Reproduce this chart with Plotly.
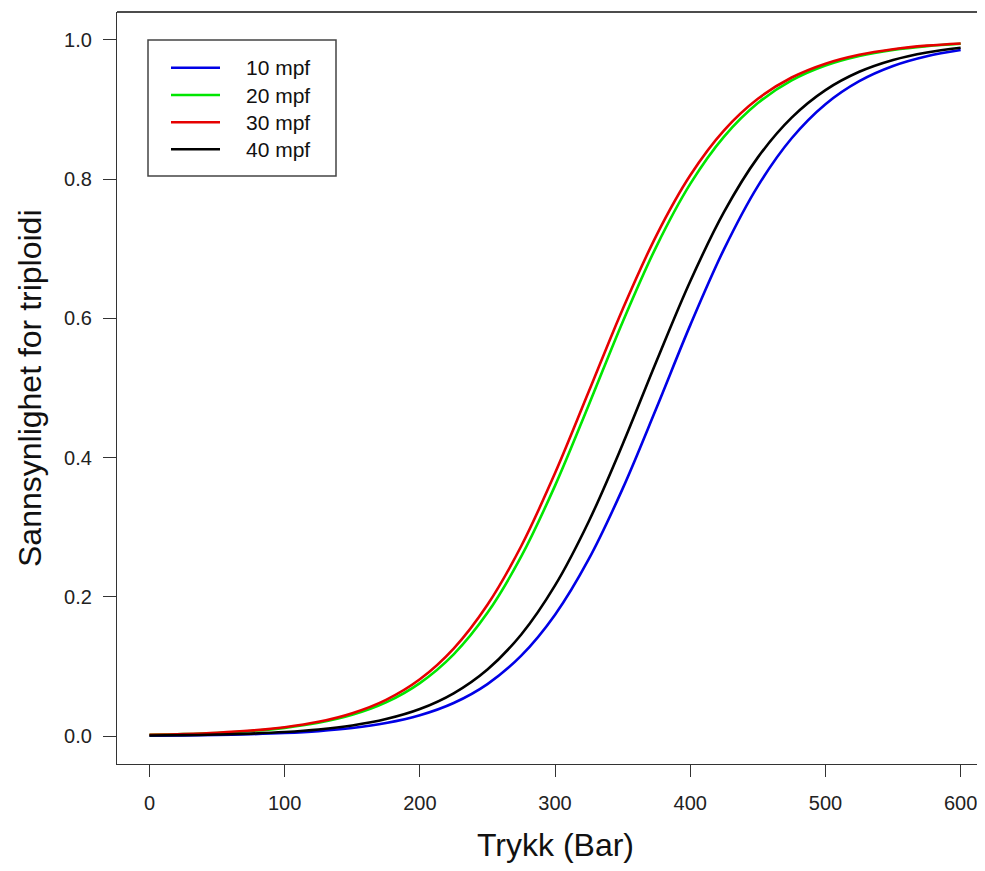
import plotly.graph_objects as go

# Pressure (Bar)
trykk = [0, 25, 50, 75, 100, 125, 150, 175, 200, 225, 250, 275, 300,
         325, 350, 375, 400, 425, 450, 475, 500, 525, 550, 575, 600]

# Probability of triploidy
p_10mpf = [0.00066, 0.00107, 0.00173, 0.00280, 0.00452, 0.00728, 0.0117, 0.0188,
           0.0300, 0.0476, 0.0748, 0.1156, 0.1744, 0.2545, 0.3555, 0.4713,
           0.5903, 0.6995, 0.7900, 0.8587, 0.9076, 0.9407, 0.9625, 0.9765, 0.9853]
p_20mpf = [0.00177, 0.00285, 0.00460, 0.00742, 0.0119, 0.0192, 0.0306, 0.0485,
           0.0762, 0.1175, 0.1771, 0.2581, 0.3598, 0.4760, 0.5949, 0.7035,
           0.7931, 0.8610, 0.9092, 0.9418, 0.9632, 0.9769, 0.9856, 0.9910, 0.9944]
p_30mpf = [0.00191, 0.00308, 0.00497, 0.00801, 0.0129, 0.0206, 0.0330, 0.0522,
           0.0817, 0.1258, 0.1887, 0.2731, 0.3778, 0.4952, 0.6132, 0.7193,
           0.8055, 0.8700, 0.9153, 0.9459, 0.9658, 0.9786, 0.9866, 0.9917, 0.9948]
p_40mpf = [0.00087, 0.00140, 0.00227, 0.00366, 0.00590, 0.00950, 0.0153, 0.0245,
           0.0389, 0.0615, 0.0957, 0.1460, 0.2165, 0.3087, 0.4192, 0.5384,
           0.6534, 0.7529, 0.8312, 0.8883, 0.9278, 0.9541, 0.9711, 0.9819, 0.9887]

series_names = ["10 mpf", "20 mpf", "30 mpf", "40 mpf"]
series_values = [p_10mpf, p_20mpf, p_30mpf, p_40mpf]
series_colors = ["#0000E6", "#00E600", "#E60000", "#000000"]

x_ticks = [0, 100, 200, 300, 400, 500, 600]
y_ticks = [0.0, 0.2, 0.4, 0.6, 0.8, 1.0]

FONT = "Liberation Sans, Arial, Helvetica, sans-serif"

# plot area spans 868 px for 642 Bar (the reference box is cut at the right edge)
PX = 868.0
def px(dx):
    return dx / PX

fig = go.Figure()
for name, vals, col in zip(series_names, series_values, series_colors):
    fig.add_trace(go.Scatter(
        x=trykk, y=vals, mode="lines", name=name, showlegend=False,
        line=dict(color=col, width=2.6, shape="spline", smoothing=1.0),
    ))

# R-style legend box (drawn in paper coordinates)
shapes = [
    dict(type="line", xref="paper", yref="paper", x0=0, x1=1, y0=1, y1=1,
         line=dict(color="#111111", width=1.3)),
    dict(type="rect", xref="paper", yref="paper", x0=px(31), x1=px(219),
         y0=0.7819, y1=0.9628, line=dict(color="#444444", width=1.5),
         fillcolor="rgba(0,0,0,0)"),
]
annotations = []
row_y = [0.9259, 0.8896, 0.8533, 0.8174]
for name, col, ry in zip(series_names, series_colors, row_y):
    shapes.append(dict(type="line", xref="paper", yref="paper", x0=px(54), x1=px(103),
                       y0=ry, y1=ry, line=dict(color=col, width=2.6)))
    annotations.append(dict(text=name, xref="paper", yref="paper", x=px(127), y=ry,
                            xanchor="left", yanchor="middle", showarrow=False,
                            font=dict(family=FONT, size=21, color="#111111")))

annotations += [
    dict(text="Trykk (Bar)", xref="paper", yref="paper", x=px(438), y=-0.1077,
         xanchor="center", yanchor="middle", showarrow=False,
         font=dict(family=FONT, size=32, color="#111111")),
    dict(text="Sannsynlighet for triploidi", xref="paper", yref="paper",
         x=px(-87), y=0.5, xanchor="center", yanchor="middle", textangle=-90,
         showarrow=False, font=dict(family=FONT, size=32, color="#111111")),
]

fig.update_layout(
    width=977, height=863,
    margin=dict(l=109, r=0, t=4, b=107),
    paper_bgcolor="white", plot_bgcolor="white",
    font=dict(family=FONT, size=20, color="#222222"),
    showlegend=False,
    xaxis=dict(
        range=[-24, 618], tickmode="array", tickvals=x_ticks,
        ticktext=[str(v) for v in x_ticks],
        showgrid=False, zeroline=False,
        showline=True, linecolor="#333333", linewidth=1.3,
        ticks="outside", ticklen=12, tickwidth=1.3, tickcolor="#333333",
        ticklabelstandoff=9,
    ),
    yaxis=dict(
        range=[-0.04, 1.04], tickmode="array", tickvals=y_ticks,
        ticktext=[f"{v:.1f}" for v in y_ticks],
        showgrid=False, zeroline=False,
        showline=True, linecolor="#333333", linewidth=1.3,
        ticks="outside", ticklen=13, tickwidth=1.3, tickcolor="#333333",
        ticklabelstandoff=7,
    ),
    shapes=shapes,
    annotations=annotations,
)

fig.write_html("out.html")
